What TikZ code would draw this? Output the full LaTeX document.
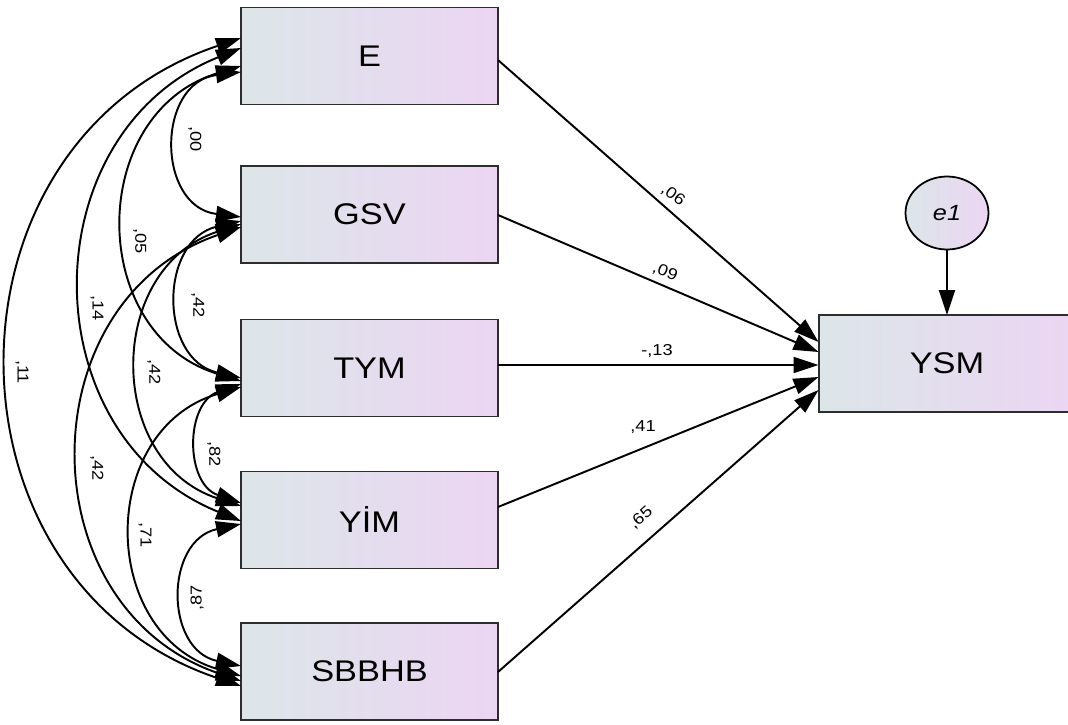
\documentclass[tikz,border=0pt]{standalone}
\usepackage{fontspec}
\setmainfont{Liberation Sans}
\newfontfamily\boxfont[FakeStretch=1.15]{Liberation Sans}
\usetikzlibrary{arrows.meta,shapes.geometric,calc}
\definecolor{boxL}{RGB}{220,230,233}
\definecolor{boxR}{RGB}{236,213,243}
\definecolor{edgeC}{RGB}{45,45,45}
\begin{document}
\begin{tikzpicture}[x=0.02cm,y=0.02cm,
  var/.style={draw=edgeC, line width=1.1pt, rectangle, minimum width=5.14cm, minimum height=1.94cm,
    inner sep=0pt, outer sep=0pt, left color=boxL, right color=boxR, font=\boxfont\fontsize{17}{20}\selectfont},
  err/.style={draw=black, line width=1pt, ellipse, minimum width=1.66cm, minimum height=1.46cm,
    inner sep=0pt, outer sep=0pt, left color=boxL, right color=boxR, font=\boxfont\fontsize{12.5}{14}\selectfont\itshape},
  pth/.style={line width=1.1pt, -{Triangle[length=0.5cm,width=0.32cm]}},
  cov/.style={line width=1.1pt, {Triangle[length=0.5cm,width=0.32cm]}-{Triangle[length=0.5cm,width=0.32cm]}},
  lbl/.style={font=\boxfont\fontsize{9}{11}\selectfont, inner sep=1pt}
]
\useasboundingbox (0,0) rectangle (1068,-724);
\fill[white] (0,0) rectangle (1068,-724);

% variables
\node[var] (E)   at (369.5,-56)    {E};
\node[var] (GSV) at (369.5,-214.5) {GSV};
\node[var] (TYM) at (369.5,-368)   {TYM};
\node[var] (YIM) at (369.5,-520)   {YİM};
\node[var] (SB)  at (369.5,-671.5) {SBBHB};
\node[var] (YSM) at (947,-363.5)   {YSM};
\node[err] (e1)  at (947,-213)     {e1};

% regression paths
\draw[pth] ($(E.east)+(0,-4)$)    -- ($(YSM.west)+(0,21.5)$);
\draw[pth] ($(GSV.east)+(0,-0.5)$) -- ($(YSM.west)+(0,11.5)$);
\draw[pth] ($(TYM.east)+(0,3)$)   -- ($(YSM.west)+(0,-1.5)$);
\draw[pth] ($(YIM.east)+(0,13)$)  -- ($(YSM.west)+(0,-13.5)$);
\draw[pth] ($(SB.east)+(0,-0.5)$) -- ($(YSM.west)+(0,-26.5)$);
\draw[pth] (e1.south) -- (YSM.north);

\node[lbl, rotate=-36] (p1) at (673,-195) {,06};
\node[lbl, rotate=-21] (p2) at (665,-272) {,09};
\node[lbl] (p3) at (657,-351) {-,13};
\node[lbl] (p4) at (643,-427) {,41};
\node[lbl, rotate=41] (p5) at (641,-518) {,65};

% covariances
\draw[cov] ($(E.west)+(0,-16)$)   to[out=187,in=173,looseness=1.515] ($(GSV.west)+(0,-2.5)$);
\draw[cov] ($(GSV.west)+(0,-6.5)$) to[out=193,in=167,looseness=1.38] ($(TYM.west)+(0,-10)$);
\draw[cov] ($(TYM.west)+(0,-16)$) to[out=199,in=161,looseness=1.28] ($(YIM.west)+(0,17)$);
\draw[cov] ($(YIM.west)+(0,-4)$)  to[out=192,in=168,looseness=1.415] ($(SB.west)+(0,5.5)$);
\draw[cov] ($(E.west)+(0,-10)$)   to[out=197,in=163,looseness=1.315] ($(TYM.west)+(0,-13)$);
\draw[cov] ($(GSV.west)+(0,-9.5)$) to[out=198,in=162,looseness=1.30] ($(YIM.west)+(0,14)$);
\draw[cov] ($(TYM.west)+(0,-19)$) to[out=196.5,in=163.5,looseness=1.327] ($(SB.west)+(0,-4.5)$);
\draw[cov] ($(E.west)+(0,8)$)     to[out=202,in=158,looseness=1.236] ($(YIM.west)+(0,-1)$);
\draw[cov] ($(GSV.west)+(0,-12.5)$) to[out=199,in=161,looseness=1.28] ($(SB.west)+(0,-9.5)$);
\draw[cov] ($(E.west)+(0,18)$)    to[out=198.6,in=161.4,looseness=1.29] ($(SB.west)+(0,-14.5)$);

\node[lbl, rotate=-90] (c1)  at (195,-139) {,00};
\node[lbl, rotate=-90] (c2)  at (198,-305) {,42};
\node[lbl, rotate=-90] (c3)  at (214,-454) {,82};
\node[lbl, rotate=90]  (c4)  at (197,-598) {,87};
\node[lbl, rotate=-90] (c5)  at (140,-241) {,05};
\node[lbl, rotate=-90] (c6)  at (154,-372) {,42};
\node[lbl, rotate=-90] (c7)  at (145,-535) {,71};
\node[lbl, rotate=-90] (c8)  at (97,-308)  {,14};
\node[lbl, rotate=-90] (c9)  at (97,-468)  {,42};
\node[lbl, rotate=-90] (c10) at (22,-372)  {,11};
\end{tikzpicture}
\end{document}
